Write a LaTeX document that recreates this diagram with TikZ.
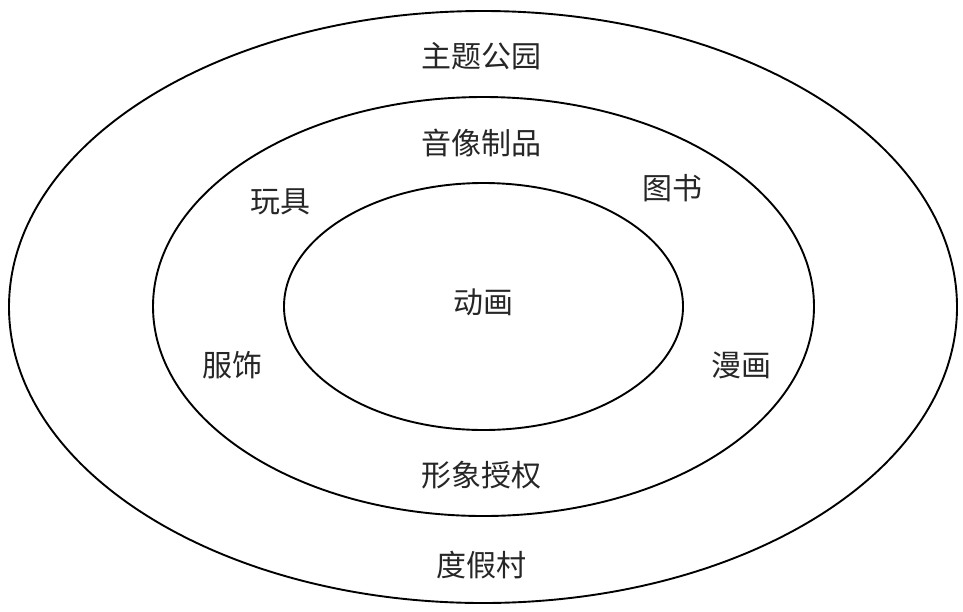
\documentclass[tikz,border=0pt]{standalone}
\usepackage{fontspec}
\newfontfamily\cjk{Noto Sans CJK SC}
\begin{document}
\begin{tikzpicture}[x=1pt,y=-1pt,
  ring/.style={line width=1.9pt,draw=black},
  lbl/.style={font=\cjk\fontsize{30}{33}\selectfont,inner sep=0pt,text=black!85}]
\useasboundingbox (0,0) rectangle (963,611);
\draw[ring] (483,307) ellipse [x radius=474,y radius=296];
\draw[ring] (483.5,306.5) ellipse [x radius=330.5,y radius=209.5];
\draw[ring] (483.5,306.5) ellipse [x radius=199.5,y radius=123.5];
\node[lbl] (zt) at (481,56) {主题公园};
\node[lbl] (yx) at (481,143) {音像制品};
\node[lbl] (wj) at (280,202) {玩具};
\node[lbl] (ts) at (672,188) {图书};
\node[lbl] (dh) at (483,302) {动画};
\node[lbl] (fs) at (232,365) {服饰};
\node[lbl] (mh) at (741,365) {漫画};
\node[lbl] (xx) at (481,475) {形象授权};
\node[lbl] (dj) at (481,565) {度假村};
\end{tikzpicture}
\end{document}
